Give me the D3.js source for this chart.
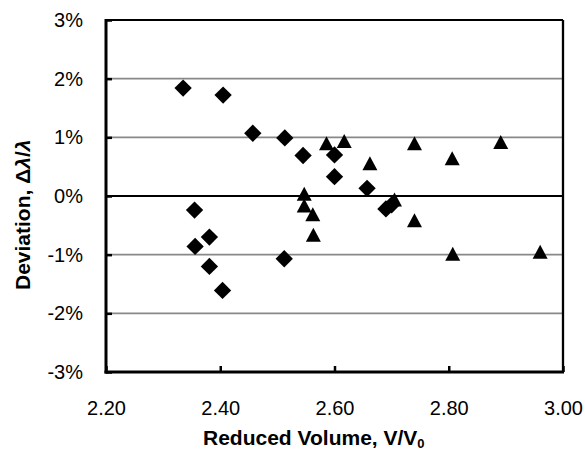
<!DOCTYPE html>
<html><head><meta charset="utf-8">
<script src="https://cdn.jsdelivr.net/npm/d3@7"></script>
<style>body{margin:0;background:#fff}svg{display:block}</style>
</head><body>
<svg id="c" width="585" height="452"></svg>
<script>
const diamondX = [2.335,2.405,2.457,2.513,2.545,2.600,2.600,2.657,2.690,2.700,2.355,2.381,2.356,2.381,2.404,2.512];
const diamondY = [1.84,1.72,1.07,0.99,0.69,0.70,0.33,0.13,-0.22,-0.15,-0.24,-0.70,-0.86,-1.20,-1.61,-1.07];
const triX = [2.586,2.617,2.662,2.547,2.547,2.562,2.563,2.705,2.740,2.740,2.806,2.891,2.807,2.960];
const triY = [0.89,0.93,0.55,0.03,-0.17,-0.32,-0.67,-0.07,0.89,-0.42,0.635,0.91,-0.995,-0.96];
const xTicks = [2.20,2.40,2.60,2.80,3.00];
const yTicks = [-3,-2,-1,0,1,2,3];

const L=106,R=563,T=20,B=372;
const x=d3.scaleLinear().domain([2.2,3.0]).range([L,R]);
const y=d3.scaleLinear().domain([-3,3]).range([B,T]);
const svg=d3.select("#c");
const font="'Liberation Sans', Arial, sans-serif";

// gridlines
svg.append("g").selectAll("line").data(yTicks.filter(d=>d!==0&&Math.abs(d)!==3)).join("line")
  .attr("x1",L).attr("x2",R).attr("y1",d=>y(d)).attr("y2",d=>y(d))
  .attr("stroke","#888").attr("stroke-width",1.6);
// zero line
svg.append("line").attr("x1",L).attr("x2",R).attr("y1",y(0)).attr("y2",y(0))
  .attr("stroke","#000").attr("stroke-width",2);

// frame top/right
svg.append("line").attr("x1",L).attr("x2",R).attr("y1",T).attr("y2",T).attr("stroke","#000").attr("stroke-width",2);
svg.append("line").attr("x1",R).attr("x2",R).attr("y1",T).attr("y2",B).attr("stroke","#000").attr("stroke-width",2.3);

// axes
const yAxis=d3.axisLeft(y).tickValues(yTicks).tickSize(-6).tickPadding(23).tickFormat(d=>d+"%");
const gy=svg.append("g").attr("transform",`translate(${L},0)`).call(yAxis);
gy.select(".domain").remove();
gy.selectAll(".tick line").attr("stroke","#000").attr("stroke-width",2.5);
gy.selectAll(".tick text").attr("font-family",font).attr("font-size",20).attr("fill","#000");
svg.append("line").attr("x1",L).attr("x2",L).attr("y1",T-1).attr("y2",B+1.5).attr("stroke","#000").attr("stroke-width",3);

const xAxis=d3.axisBottom(x).tickValues(xTicks).tickSize(-6).tickPadding(29).tickFormat(d3.format(".2f"));
const gx=svg.append("g").attr("transform",`translate(0,${B})`).call(xAxis);
gx.select(".domain").remove();
gx.selectAll(".tick line").attr("stroke","#000").attr("stroke-width",2.5);
gx.selectAll(".tick text").attr("font-family",font).attr("font-size",20).attr("fill","#000");
svg.append("line").attr("x1",L-1.5).attr("x2",R+1).attr("y1",B).attr("y2",B).attr("stroke","#000").attr("stroke-width",3);

// markers
const dsym=d3.symbol().type(d3.symbolSquare).size(150);
svg.append("g").selectAll("path").data(diamondX.map((v,i)=>[v,diamondY[i]])).join("path")
  .attr("d",dsym).attr("transform",d=>`translate(${x(d[0])},${y(d[1])}) rotate(45)`).attr("fill","#000");
const tri=d=>{const cx=x(d[0]),cy=y(d[1]);return `M${cx},${cy-7.5}L${cx+7.5},${cy+6.5}L${cx-7.5},${cy+6.5}Z`;};
svg.append("g").selectAll("path").data(triX.map((v,i)=>[v,triY[i]])).join("path")
  .attr("d",tri).attr("fill","#000");

// titles
const xt=svg.append("text").attr("x",203).attr("y",445).attr("text-anchor","start")
  .attr("font-family",font).attr("font-size",21).attr("font-weight","bold").attr("fill","#000");
xt.append("tspan").text("Reduced Volume, V/V");
xt.append("tspan").attr("dy",3).attr("font-size",13).text("0");

const yt=svg.append("text").attr("transform",`translate(30,290) rotate(-90)`).attr("text-anchor","start")
  .attr("font-family",font).attr("font-size",21).attr("font-weight","bold").attr("fill","#000");
yt.append("tspan").text("Deviation, Δ");
yt.append("tspan").attr("font-style","italic").text("λ");
yt.append("tspan").text("/");
yt.append("tspan").attr("font-style","italic").text("λ");
</script>
</body></html>
